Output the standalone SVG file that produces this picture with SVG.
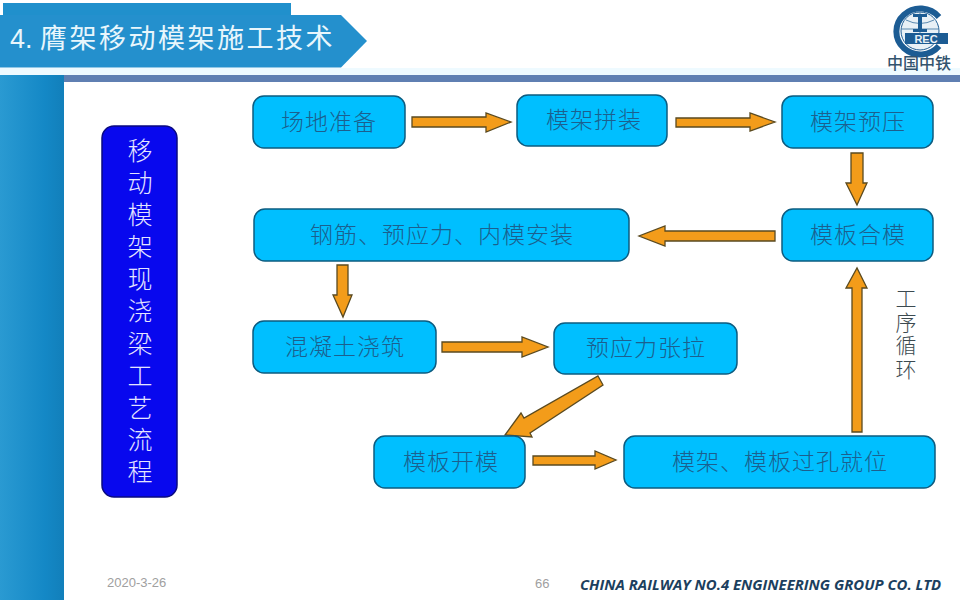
<svg xmlns="http://www.w3.org/2000/svg" width="960" height="600" viewBox="0 0 960 600">
<defs>
<linearGradient id="side" x1="0" x2="1" y1="0" y2="0"><stop offset="0" stop-color="#2a9ad2"/><stop offset="0.7" stop-color="#1488c6"/><stop offset="1" stop-color="#127fba"/></linearGradient>
</defs>
<style>
text{font-family:"Noto Sans CJK SC","Liberation Sans",sans-serif}
.box{fill:#00bfff;stroke:#0d5c80;stroke-width:1.5}
.lbl{font-size:23px;font-weight:300;fill:#1c5f8e;text-anchor:middle;letter-spacing:1px}
.arr{fill:#f39c1a;stroke:#5a4a20;stroke-width:1.3;stroke-linejoin:miter}
.v{font-size:25px;font-weight:300;fill:#e4e4ff;writing-mode:vertical-rl;letter-spacing:7.100px}
.c{font-size:21px;font-weight:300;fill:#3c4a50;writing-mode:vertical-rl;letter-spacing:2.400px}
</style>
<rect width="960" height="600" fill="#fff"/>
<g id="header">
<rect x="3" y="3" width="288" height="20" fill="#2090cc"/>
<path d="M0 15H341L367 41L341 67.500H0Z" fill="#2490cd"/>
<text x="10" y="48" font-size="27" fill="#e8f6fc" style="font-family:'Liberation Sans','Noto Sans CJK SC',sans-serif">4. <tspan letter-spacing="2.500">膺架移动模架施工技术</tspan></text>
<rect x="0" y="68" width="960" height="7" fill="#eefaff"/>
<rect x="64" y="75" width="896" height="7" fill="#5f7fb2"/>
<rect x="0" y="75" width="64" height="525" fill="url(#side)"/>
</g>
<g id="logo">
<path d="M939 17A24 23 0 1 0 939 46" fill="none" stroke="#1c5c94" stroke-width="6"/>
<circle cx="920" cy="31" r="19" fill="#e8f0f6" stroke="#1c5c94" stroke-width="1"/>
<path d="M902 29H938M920 12V35M906 20Q920 27 934 20" fill="none" stroke="#5b8ab0" stroke-width="1"/>
<path d="M913 14H927V17H922V29H927V32H913V29H918V17H913Z" fill="#1c5c94"/>
<rect x="905" y="33" width="43" height="11" fill="#1c5c94"/>
<text x="926" y="43" font-size="11" font-weight="700" fill="#e8f0f6" text-anchor="middle" style="font-family:'Liberation Sans',sans-serif">REC</text>
<text x="919" y="69" font-size="16" font-weight="500" fill="#33546e" text-anchor="middle">中国中铁</text>
</g>
<g id="title-box">
<rect x="102" y="126" width="75" height="371" rx="12" fill="#0808ee" stroke="#0a0a80" stroke-width="1.500"/>
<text class="v" x="140" y="138">移动模架现浇梁工艺流程</text>
</g>
<g id="connectors">
<path class="arr" d="M412 117H486V113L511 122L486 132V127H412Z"/>
<path class="arr" d="M676 118H750V113L775 122L750 131V127H676Z"/>
<path class="arr" d="M851 153H863V183H867L857 205L846 183H851Z"/>
<path class="arr" d="M775 231V241H665V246L639 236L665 226V231Z"/>
<path class="arr" d="M337 265H348V295H352L343 317L333 295H337Z"/>
<path class="arr" d="M442 342H522V337L548 347L522 357V352H442Z"/>
<path class="arr" d="M598 376L603 385L530 433L532 437L505 435L521 413L524 418Z"/>
<path class="arr" d="M533 456H595V451L616 460L595 469V465H533Z"/>
<path class="arr" d="M852 432V288H846L857 268L867 288H862V432Z"/>
</g>
<g id="n1"><rect class="box" x="253" y="96" width="152" height="52" rx="11"/><text class="lbl" x="329" y="130">场地准备</text></g>
<g id="n2"><rect class="box" x="517" y="95" width="150" height="51" rx="11"/><text class="lbl" x="594" y="128">模架拼装</text></g>
<g id="n3"><rect class="box" x="782" y="96" width="151" height="52" rx="11"/><text class="lbl" x="858" y="130">模架预压</text></g>
<g id="n4"><rect class="box" x="782" y="209" width="151" height="52" rx="11"/><text class="lbl" x="858" y="243">模板合模</text></g>
<g id="n5"><rect class="box" x="254" y="209" width="375" height="52" rx="11"/><text class="lbl" x="442" y="243">钢筋、预应力、内模安装</text></g>
<g id="n6"><rect class="box" x="253" y="321" width="183" height="52" rx="11"/><text class="lbl" x="345" y="355">混凝土浇筑</text></g>
<g id="n7"><rect class="box" x="554" y="323" width="183" height="51" rx="11"/><text class="lbl" x="646" y="356">预应力张拉</text></g>
<g id="n8"><rect class="box" x="374" y="436" width="151" height="52" rx="11"/><text class="lbl" x="451" y="470">模板开模</text></g>
<g id="n9"><rect class="box" x="624" y="436" width="311" height="52" rx="11"/><text class="lbl" x="780" y="470">模架、模板过孔就位</text></g>
<g id="cycle">
<text class="c" x="906" y="288">工序循环</text>
</g>
<g id="footer">
<text x="107" y="587" font-size="13" fill="#a0a0a0" style="font-family:'Liberation Sans',sans-serif">2020-3-26</text>
<text x="535" y="588" font-size="13" fill="#a0a0a0" style="font-family:'Liberation Sans',sans-serif">66</text>
<text x="580" y="590" font-size="14.900" font-weight="700" font-style="italic" fill="#1c3f5e" style="font-family:'Open Sans','Liberation Sans',sans-serif">CHINA RAILWAY NO.4 ENGINEERING GROUP CO. LTD</text>
</g>
</svg>
